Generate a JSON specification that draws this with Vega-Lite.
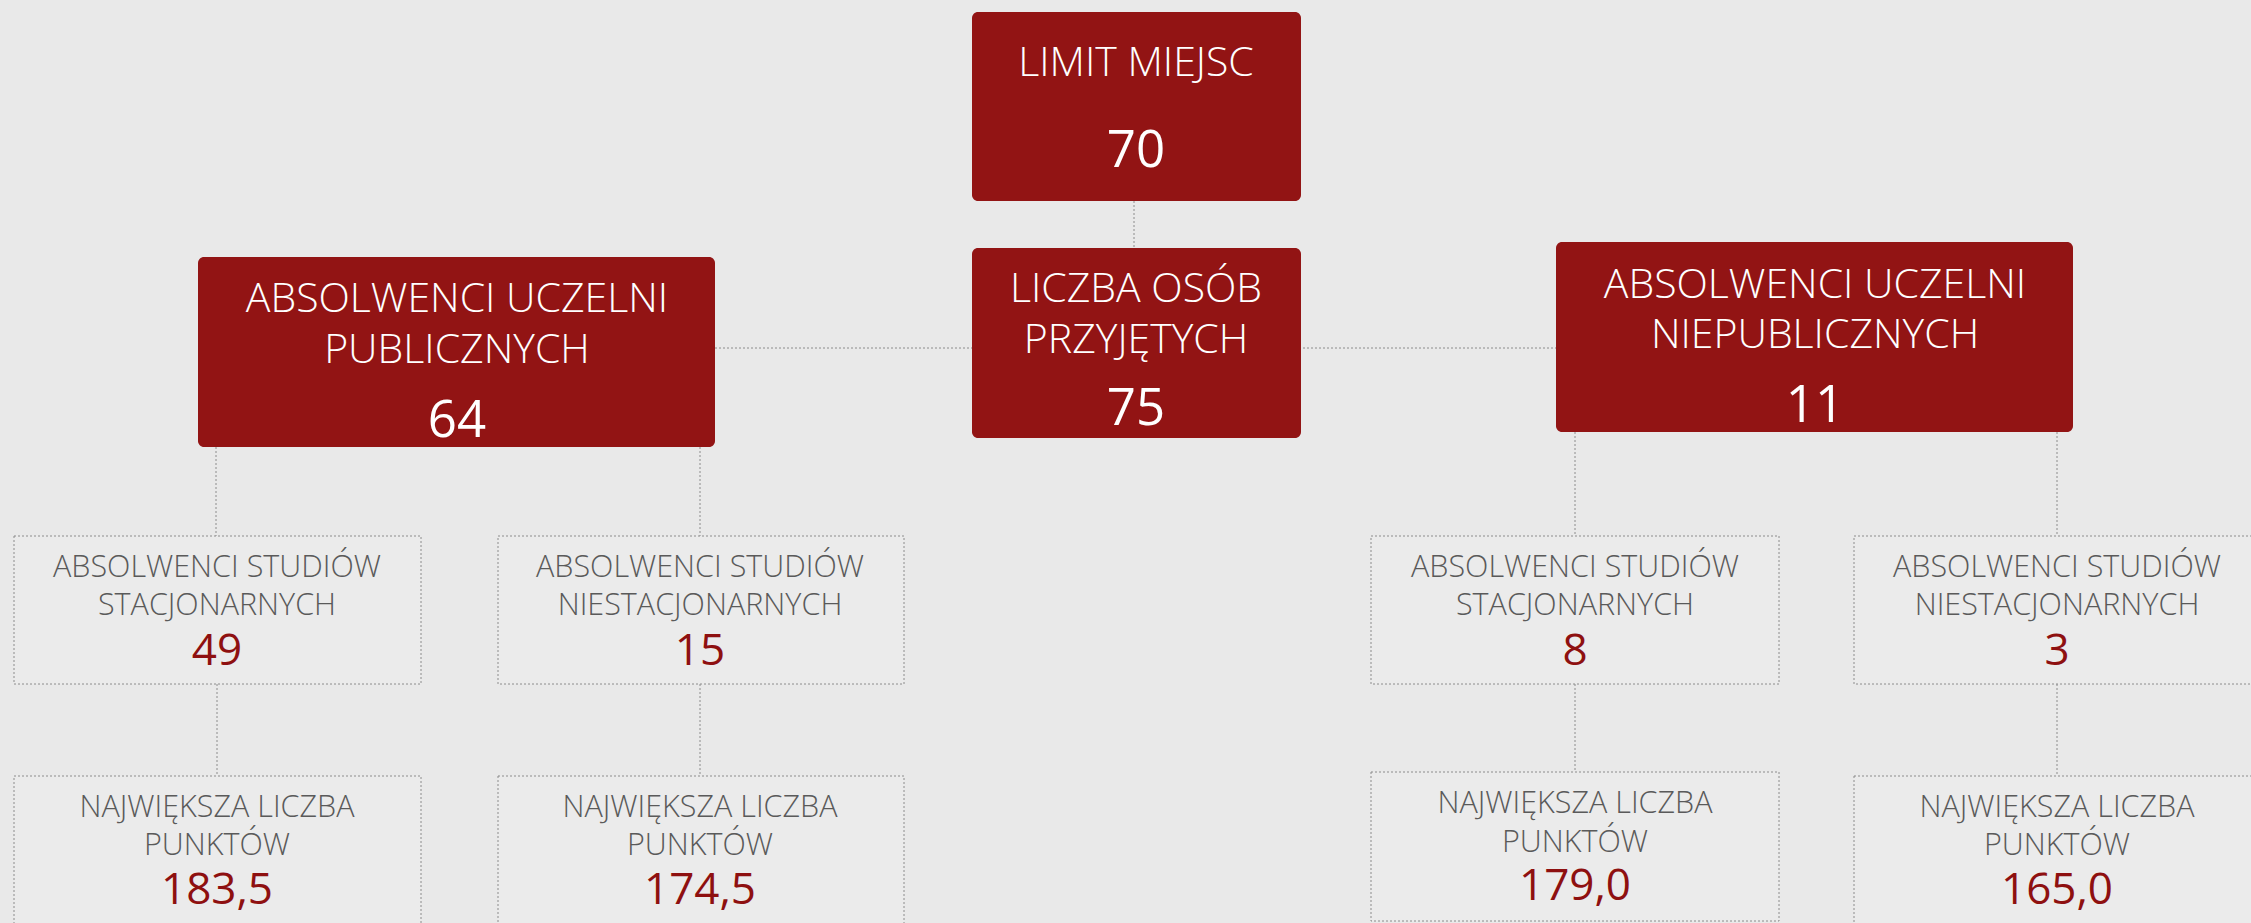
{
  "$schema": "https://vega.github.io/schema/vega-lite/v6.json",
  "width": 2251,
  "height": 923,
  "autosize": {"type": "fit", "contains": "padding"},
  "padding": 0,
  "background": "#e9e9e9",
  "config": {"view": {"stroke": null}},
  "datasets": {
    "links": [
      {"x": 1134, "y": 201, "x2": 1134, "y2": 248},
      {"x": 715, "y": 348, "x2": 1556, "y2": 348},
      {"x": 216, "y": 447, "x2": 216, "y2": 536},
      {"x": 700, "y": 447, "x2": 700, "y2": 536},
      {"x": 1575, "y": 432, "x2": 1575, "y2": 536},
      {"x": 2057, "y": 432, "x2": 2057, "y2": 536},
      {"x": 217, "y": 684, "x2": 217, "y2": 776},
      {"x": 700, "y": 684, "x2": 700, "y2": 776},
      {"x": 1575, "y": 684, "x2": 1575, "y2": 772},
      {"x": 2057, "y": 684, "x2": 2057, "y2": 776}
    ],
    "boxes": [
      {"name": "limit", "level": "main", "x": 972, "x2": 1301, "y": 12, "y2": 201},
      {"name": "przyjeci", "level": "main", "x": 972, "x2": 1301, "y": 248, "y2": 438},
      {"name": "publiczne", "level": "main", "x": 198, "x2": 715, "y": 257, "y2": 447},
      {"name": "niepubliczne", "level": "main", "x": 1556, "x2": 2073, "y": 242, "y2": 432},
      {"name": "pub_stac", "level": "sub", "x": 14, "x2": 421, "y": 536, "y2": 684},
      {"name": "pub_niestac", "level": "sub", "x": 498, "x2": 904, "y": 536, "y2": 684},
      {"name": "npub_stac", "level": "sub", "x": 1371, "x2": 1779, "y": 536, "y2": 684},
      {"name": "npub_niestac", "level": "sub", "x": 1854, "x2": 2262, "y": 536, "y2": 684},
      {"name": "pub_stac_pkt", "level": "sub", "x": 14, "x2": 421, "y": 776, "y2": 935},
      {"name": "pub_niestac_pkt", "level": "sub", "x": 498, "x2": 904, "y": 776, "y2": 935},
      {"name": "npub_stac_pkt", "level": "sub", "x": 1371, "x2": 1779, "y": 772, "y2": 921},
      {"name": "npub_niestac_pkt", "level": "sub", "x": 1854, "x2": 2262, "y": 776, "y2": 935}
    ],
    "labels": [
      {"role": "title", "x": 1136, "y": 76, "text": "LIMIT MIEJSC"},
      {"role": "value", "x": 1136, "y": 167, "text": "70"},
      {"role": "title", "x": 1136, "y": 302, "text": "LICZBA OSÓB"},
      {"role": "title", "x": 1136, "y": 353, "text": "PRZYJĘTYCH"},
      {"role": "value", "x": 1136, "y": 425, "text": "75"},
      {"role": "title", "x": 457, "y": 312, "text": "ABSOLWENCI UCZELNI"},
      {"role": "title", "x": 457, "y": 363, "text": "PUBLICZNYCH"},
      {"role": "value", "x": 457, "y": 437, "text": "64"},
      {"role": "title", "x": 1815, "y": 298, "text": "ABSOLWENCI UCZELNI"},
      {"role": "title", "x": 1815, "y": 348, "text": "NIEPUBLICZNYCH"},
      {"role": "value", "x": 1815, "y": 422, "text": "11"},
      {"role": "subtitle", "x": 217, "y": 577, "text": "ABSOLWENCI STUDIÓW"},
      {"role": "subtitle", "x": 217, "y": 615, "text": "STACJONARNYCH"},
      {"role": "subvalue", "x": 217, "y": 665, "text": "49"},
      {"role": "subtitle", "x": 700, "y": 577, "text": "ABSOLWENCI STUDIÓW"},
      {"role": "subtitle", "x": 700, "y": 615, "text": "NIESTACJONARNYCH"},
      {"role": "subvalue", "x": 700, "y": 665, "text": "15"},
      {"role": "subtitle", "x": 1575, "y": 577, "text": "ABSOLWENCI STUDIÓW"},
      {"role": "subtitle", "x": 1575, "y": 615, "text": "STACJONARNYCH"},
      {"role": "subvalue", "x": 1575, "y": 665, "text": "8"},
      {"role": "subtitle", "x": 2057, "y": 577, "text": "ABSOLWENCI STUDIÓW"},
      {"role": "subtitle", "x": 2057, "y": 615, "text": "NIESTACJONARNYCH"},
      {"role": "subvalue", "x": 2057, "y": 665, "text": "3"},
      {"role": "subtitle", "x": 217, "y": 817, "text": "NAJWIĘKSZA LICZBA"},
      {"role": "subtitle", "x": 217, "y": 855, "text": "PUNKTÓW"},
      {"role": "subvalue", "x": 217, "y": 904, "text": "183,5"},
      {"role": "subtitle", "x": 700, "y": 817, "text": "NAJWIĘKSZA LICZBA"},
      {"role": "subtitle", "x": 700, "y": 855, "text": "PUNKTÓW"},
      {"role": "subvalue", "x": 700, "y": 904, "text": "174,5"},
      {"role": "subtitle", "x": 1575, "y": 813, "text": "NAJWIĘKSZA LICZBA"},
      {"role": "subtitle", "x": 1575, "y": 852, "text": "PUNKTÓW"},
      {"role": "subvalue", "x": 1575, "y": 900, "text": "179,0"},
      {"role": "subtitle", "x": 2057, "y": 817, "text": "NAJWIĘKSZA LICZBA"},
      {"role": "subtitle", "x": 2057, "y": 855, "text": "PUNKTÓW"},
      {"role": "subvalue", "x": 2057, "y": 904, "text": "165,0"}
    ]
  },
  "layer": [
    {
      "data": {"name": "links"},
      "mark": {"type": "rule", "color": "#8c8c8c", "strokeWidth": 1, "strokeDash": [2, 2], "clip": true},
      "encoding": {
        "x": {"field": "x", "type": "quantitative", "scale": {"domain": [0, 2251], "nice": false, "zero": false}, "axis": null},
        "x2": {"field": "x2"},
        "y": {"field": "y", "type": "quantitative", "scale": {"domain": [0, 923], "nice": false, "zero": false, "reverse": true}, "axis": null},
        "y2": {"field": "y2"}
      }
    },
    {
      "data": {"name": "boxes"},
      "transform": [{"filter": "datum.level === 'main'"}],
      "mark": {"type": "rect", "color": "#921414", "cornerRadius": 6, "clip": true},
      "encoding": {
        "x": {"field": "x", "type": "quantitative", "scale": {"domain": [0, 2251], "nice": false, "zero": false}, "axis": null},
        "x2": {"field": "x2"},
        "y": {"field": "y", "type": "quantitative", "scale": {"domain": [0, 923], "nice": false, "zero": false, "reverse": true}, "axis": null},
        "y2": {"field": "y2"}
      }
    },
    {
      "data": {"name": "boxes"},
      "transform": [{"filter": "datum.level === 'sub'"}],
      "mark": {"type": "rect", "fill": "#ededed", "fillOpacity": 0.6, "stroke": "#8c8c8c", "strokeWidth": 1, "strokeDash": [2, 2], "clip": true},
      "encoding": {
        "x": {"field": "x", "type": "quantitative", "scale": {"domain": [0, 2251], "nice": false, "zero": false}, "axis": null},
        "x2": {"field": "x2"},
        "y": {"field": "y", "type": "quantitative", "scale": {"domain": [0, 923], "nice": false, "zero": false, "reverse": true}, "axis": null},
        "y2": {"field": "y2"}
      }
    },
    {
      "data": {"name": "labels"},
      "transform": [{"filter": "datum.role === 'title'"}],
      "mark": {"type": "text", "font": "Open Sans", "fontWeight": 300, "fontSize": 41, "color": "#ffffff", "align": "center", "baseline": "alphabetic"},
      "encoding": {
        "x": {"field": "x", "type": "quantitative", "scale": {"domain": [0, 2251], "nice": false, "zero": false}, "axis": null},
        "y": {"field": "y", "type": "quantitative", "scale": {"domain": [0, 923], "nice": false, "zero": false, "reverse": true}, "axis": null},
        "text": {"field": "text"}
      }
    },
    {
      "data": {"name": "labels"},
      "transform": [{"filter": "datum.role === 'value'"}],
      "mark": {"type": "text", "font": "Open Sans", "fontWeight": 400, "fontSize": 51, "color": "#ffffff", "align": "center", "baseline": "alphabetic"},
      "encoding": {
        "x": {"field": "x", "type": "quantitative", "scale": {"domain": [0, 2251], "nice": false, "zero": false}, "axis": null},
        "y": {"field": "y", "type": "quantitative", "scale": {"domain": [0, 923], "nice": false, "zero": false, "reverse": true}, "axis": null},
        "text": {"field": "text"}
      }
    },
    {
      "data": {"name": "labels"},
      "transform": [{"filter": "datum.role === 'subtitle'"}],
      "mark": {"type": "text", "font": "Open Sans", "fontWeight": 300, "fontSize": 30.5, "color": "#5a5a5a", "align": "center", "baseline": "alphabetic"},
      "encoding": {
        "x": {"field": "x", "type": "quantitative", "scale": {"domain": [0, 2251], "nice": false, "zero": false}, "axis": null},
        "y": {"field": "y", "type": "quantitative", "scale": {"domain": [0, 923], "nice": false, "zero": false, "reverse": true}, "axis": null},
        "text": {"field": "text"}
      }
    },
    {
      "data": {"name": "labels"},
      "transform": [{"filter": "datum.role === 'subvalue'"}],
      "mark": {"type": "text", "font": "Open Sans", "fontWeight": 400, "fontSize": 44, "color": "#8e1010", "align": "center", "baseline": "alphabetic"},
      "encoding": {
        "x": {"field": "x", "type": "quantitative", "scale": {"domain": [0, 2251], "nice": false, "zero": false}, "axis": null},
        "y": {"field": "y", "type": "quantitative", "scale": {"domain": [0, 923], "nice": false, "zero": false, "reverse": true}, "axis": null},
        "text": {"field": "text"}
      }
    }
  ]
}
